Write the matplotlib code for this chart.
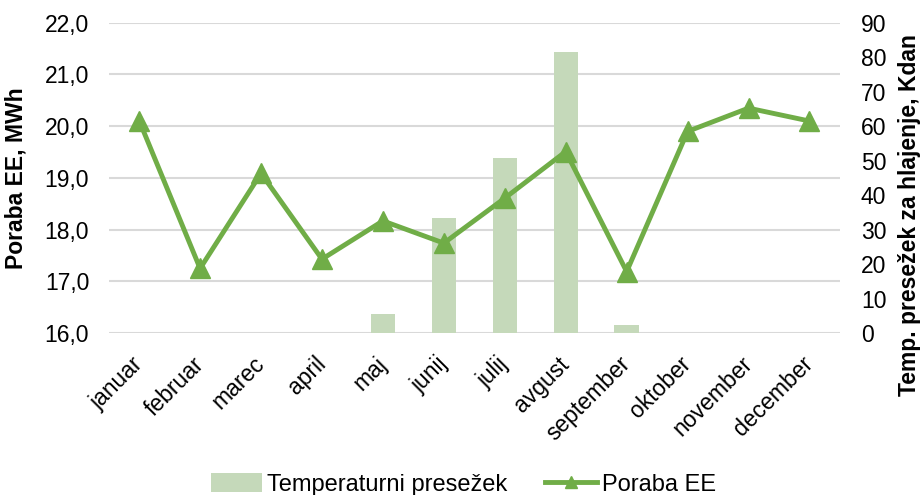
import numpy as np
import matplotlib
matplotlib.use("Agg")
import matplotlib.pyplot as plt
import matplotlib.transforms as mtransforms
from matplotlib.lines import Line2D

plt.rcParams['font.family'] = ['Liberation Sans', 'DejaVu Sans']

# Data
months = ['januar', 'februar', 'marec', 'april', 'maj', 'junij',
          'julij', 'avgust', 'september', 'oktober', 'november', 'december']
poraba_ee = [20.11, 17.25, 19.09, 17.43, 18.17, 17.74,
             18.61, 19.51, 17.19, 19.90, 20.35, 20.10]
temp_presezek = [0, 0, 0, 0, 5.5, 33.3, 50.9, 81.4, 2.3, 0, 0, 0]
left_ticks = [16, 17, 18, 19, 20, 21, 22]
right_ticks = [0, 10, 20, 30, 40, 50, 60, 70, 80, 90]

line_color = '#70AD47'
bar_color = '#C5D9BA'
grid_color = '#D9D9D9'
fs = 16.5

fig = plt.figure(figsize=(9.21, 4.95), dpi=100)
ax = fig.add_axes([0.118, 0.327, 0.794, 0.627])
x = np.arange(len(months))

# left axis: grid + ticks
ax.set_ylim(16, 22)
ax.set_xlim(-0.5, len(months) - 0.5)
ax.set_yticks(left_ticks)
ax.set_yticklabels([f'{v:.1f}'.replace('.', ',') for v in left_ticks], fontsize=fs)
ax.yaxis.grid(True, color=grid_color, linewidth=1.5)
ax.set_axisbelow(True)
for s in ax.spines.values():
    s.set_visible(False)
ax.tick_params(axis='y', length=0, pad=14)
ax.tick_params(axis='x', length=0, pad=14)
ax.set_xticks(x)
ax.set_xticklabels(months, rotation=45, ha='right', rotation_mode='anchor', fontsize=fs)
shift = mtransforms.ScaledTranslation(-0.08, 0, fig.dpi_scale_trans)
for lbl in ax.get_xticklabels():
    lbl.set_transform(lbl.get_transform() + shift)
ax.set_ylabel('Poraba EE, MWh', fontsize=fs, fontweight='bold')
ax.yaxis.set_label_coords(-0.111, 0.5)

# right axis: bars
ax2 = ax.twinx()
bars = ax2.bar(x, temp_presezek, width=0.4, color=bar_color, zorder=2,
               label='Temperaturni presežek')
ax2.set_ylim(0, 90)
ax2.set_yticks(right_ticks)
ax2.set_yticklabels([str(v) for v in right_ticks], fontsize=fs)
ax2.tick_params(axis='y', length=0, pad=15)
for s in ax2.spines.values():
    s.set_visible(False)
ax2.set_ylabel('Temp. presežek za hlajenje, Kdan', fontsize=fs, fontweight='bold')
ax2.yaxis.set_label_coords(1.08, 0.38)

# line on top
ax3 = ax.twinx()
ax3.set_ylim(16, 22)
ax3.axis('off')
ax3.plot(x, poraba_ee, color=line_color, linewidth=3.5, marker='^',
         markersize=14)

line_handle = Line2D([], [], color=line_color, linewidth=3.5, marker='^', markersize=9)
fig.legend(handles=[bars, line_handle], labels=['Temperaturni presežek', 'Poraba EE'],
           loc='center', ncol=2, bbox_to_anchor=(0.503, 0.022), frameon=False,
           fontsize=fs + 0.5, handlelength=2.2, handleheight=0.9,
           columnspacing=1.6, handletextpad=0.2, borderpad=0)

fig.savefig('out.png', dpi=100)
